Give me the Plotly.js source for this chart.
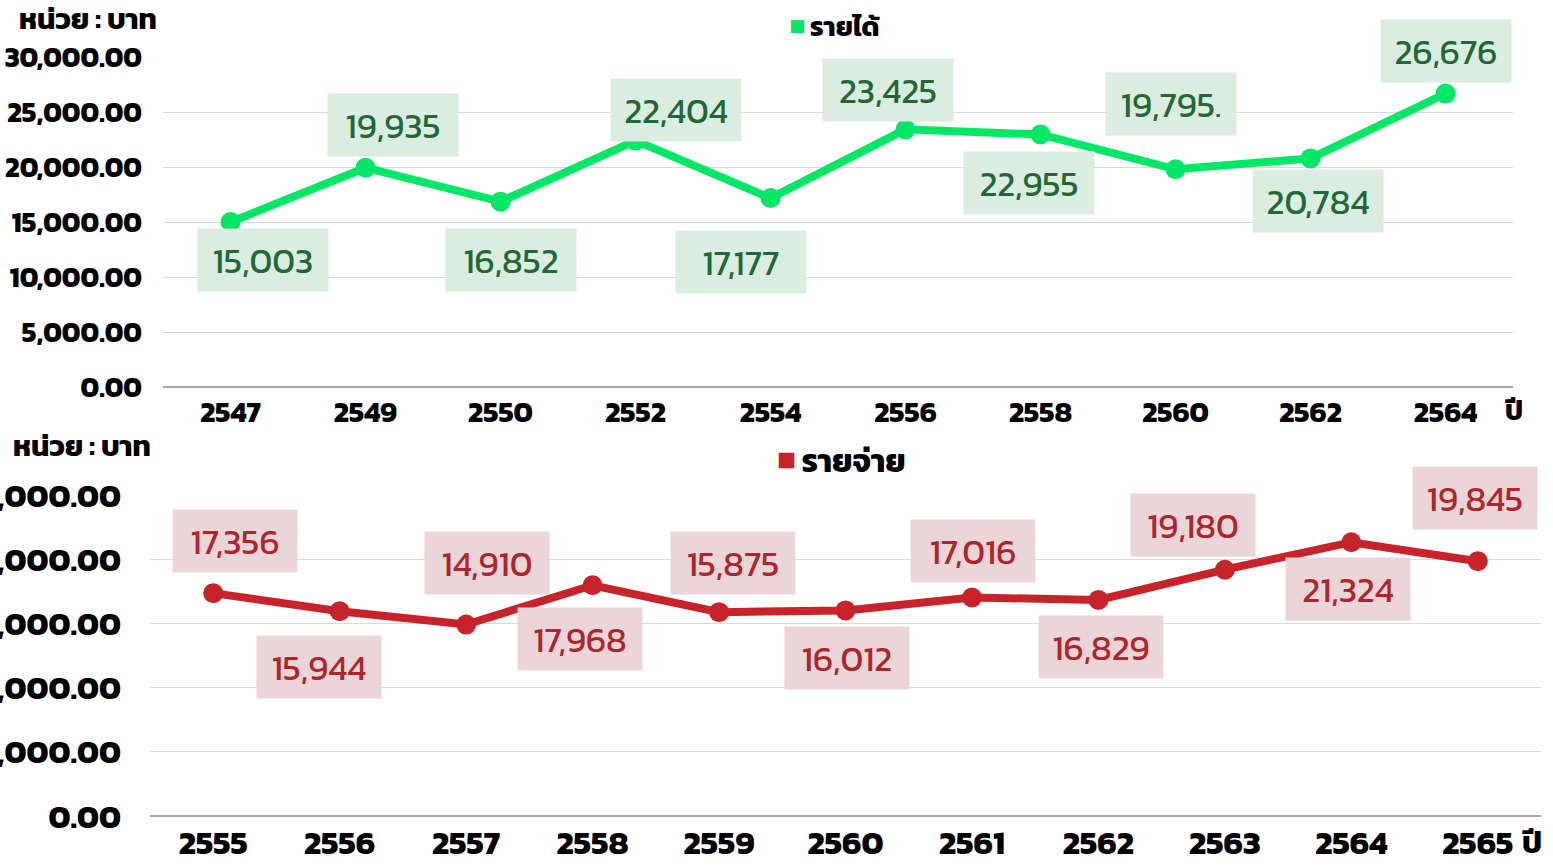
<!DOCTYPE html>
<html><head><meta charset="utf-8">
<script src="https://cdn.plot.ly/plotly-3.0.1.min.js"></script>
<style>html,body{margin:0;padding:0;background:#fff}#c{width:1553px;height:866px}</style>
</head><body><div id="c"></div>
<script>
const incomeYears = ['2547','2549','2550','2552','2554','2556','2558','2560','2562','2564'];
const incomeValues = [15003, 19935, 16852, 22404, 17177, 23425, 22955, 19795, 20784, 26676];
const incomeLabels = ['15,003','19,935','16,852','22,404','17,177','23,425','22,955','19,795.','20,784','26,676'];
const expenseYears = ['2555','2556','2557','2558','2559','2560','2561','2562','2563','2564','2565'];
const expenseValues = [17356, 15944, 14910, 17968, 15875, 16012, 17016, 16829, 19180, 21324, 19845];
const expenseLabels = ['17,356','15,944','14,910','17,968','15,875','16,012','17,016','16,829','19,180','21,324','19,845'];

// label offsets (pixels) relative to the points
const incomeShift = [[32,-38],[27,43],[10,-58],[40,31],[-30,-64],[-18,39],[-12,-48],[-5,65],[7,-43],[0,43]];
const expenseShift = [[22,52],[-21,-56],[21,62],[-13,-54],[14,49],[1,-48],[1,47],[3,-47],[-32,45],[-3,-47],[-3,63]];

const FONT = 'Kanit, Prompt, "Noto Sans Thai", Lato, "Noto Sans", sans-serif';
const W = 1553, H = 866;
const GREEN = '#00e765', RED = '#c8232b';

const traces = [
  {x: incomeYears, y: incomeValues, xaxis:'x', yaxis:'y', mode:'lines+markers', showlegend:false,
   line:{color:GREEN, width:8}, marker:{color:GREEN, size:20}, hoverinfo:'skip'},
  {x: expenseYears, y: expenseValues, xaxis:'x2', yaxis:'y2', mode:'lines+markers', showlegend:false,
   line:{color:RED, width:8}, marker:{color:RED, size:20}, hoverinfo:'skip'}
];

const annotations = [];
incomeYears.forEach((yr,i)=>annotations.push({
  x: i, y: incomeValues[i], xref:'x', yref:'y', text: incomeLabels[i], showarrow:false,
  xshift: incomeShift[i][0], yshift: incomeShift[i][1], width:112, height:44,
  bgcolor:'#dbece0', borderpad:9, font:{family:FONT, size:35, color:'#1f6a34'}
}));
expenseYears.forEach((yr,i)=>annotations.push({
  x: i, y: expenseValues[i], xref:'x2', yref:'y2', text: expenseLabels[i], showarrow:false,
  xshift: expenseShift[i][0], yshift: expenseShift[i][1], width:106, height:44,
  bgcolor:'#ead6d8', borderpad:9, font:{family:FONT, size:35, color:'#b0242a'}
}));
const px = v => v / W, py = v => 1 - v / H;
const txt = (t, x, y, size, xa='center') => ({text:t, x:px(x), y:py(y), xref:'paper', yref:'paper', xanchor:xa, yanchor:'middle', showarrow:false, font:{family:FONT, size:size, color:'#000', weight:700}});
annotations.push(txt('หน่วย : บาท', 88, 18, 29));
annotations.push(txt('หน่วย : บาท', 82, 446, 29));
annotations.push(txt('ปี', 1514, 410, 28));
annotations.push(txt('ปี', 1532, 842, 31));
annotations.push(txt('<span style="color:'+GREEN+'">■</span> รายได้', 835, 27, 27));
annotations.push(txt('<span style="color:'+RED+'">■</span> รายจ่าย', 842, 461, 32));

const layout = {
  width: W, height: H, margin:{l:0,r:0,t:0,b:0}, paper_bgcolor:'#fff', plot_bgcolor:'#fff',
  font:{family:FONT},
  xaxis:{domain:[px(163), px(1513)], anchor:'y', type:'category', range:[-0.5, incomeYears.length-0.5], autorange:false,
         showgrid:false, ticks:'', showline:false,
         tickfont:{family:FONT, size:29, color:'#000', weight:700}, ticklabelstandoff:5, fixedrange:true},
  yaxis:{domain:[py(387), py(57)], anchor:'x', range:[0,30000], autorange:false, dtick:5000, tickformat:',.2f',
         gridcolor:'#d9d9d9', gridwidth:1, zeroline:true, zerolinecolor:'#a6a6a6', zerolinewidth:1.5,
         ticks:'', tickfont:{family:FONT, size:28, color:'#000', weight:700}, ticklabelstandoff:20, automargin:false},
  xaxis2:{domain:[px(150), px(1541)], anchor:'y2', type:'category', range:[-0.5, expenseYears.length-0.5], autorange:false,
         showgrid:false, ticks:'', showline:false,
         tickfont:{family:FONT, size:33, color:'#000', weight:700}, ticklabelstandoff:4, fixedrange:true},
  yaxis2:{domain:[py(816), py(495)], anchor:'x2', range:[0,25000], autorange:false, dtick:5000, tickformat:',.2f',
         gridcolor:'#d9d9d9', gridwidth:1, zeroline:true, zerolinecolor:'#a6a6a6', zerolinewidth:1.5,
         ticks:'', tickfont:{family:FONT, size:33, color:'#000', weight:700}, ticklabelstandoff:28, automargin:false},
  annotations: annotations
};
Plotly.newPlot('c', traces, layout, {displayModeBar:false, staticPlot:true});
</script></body></html>
